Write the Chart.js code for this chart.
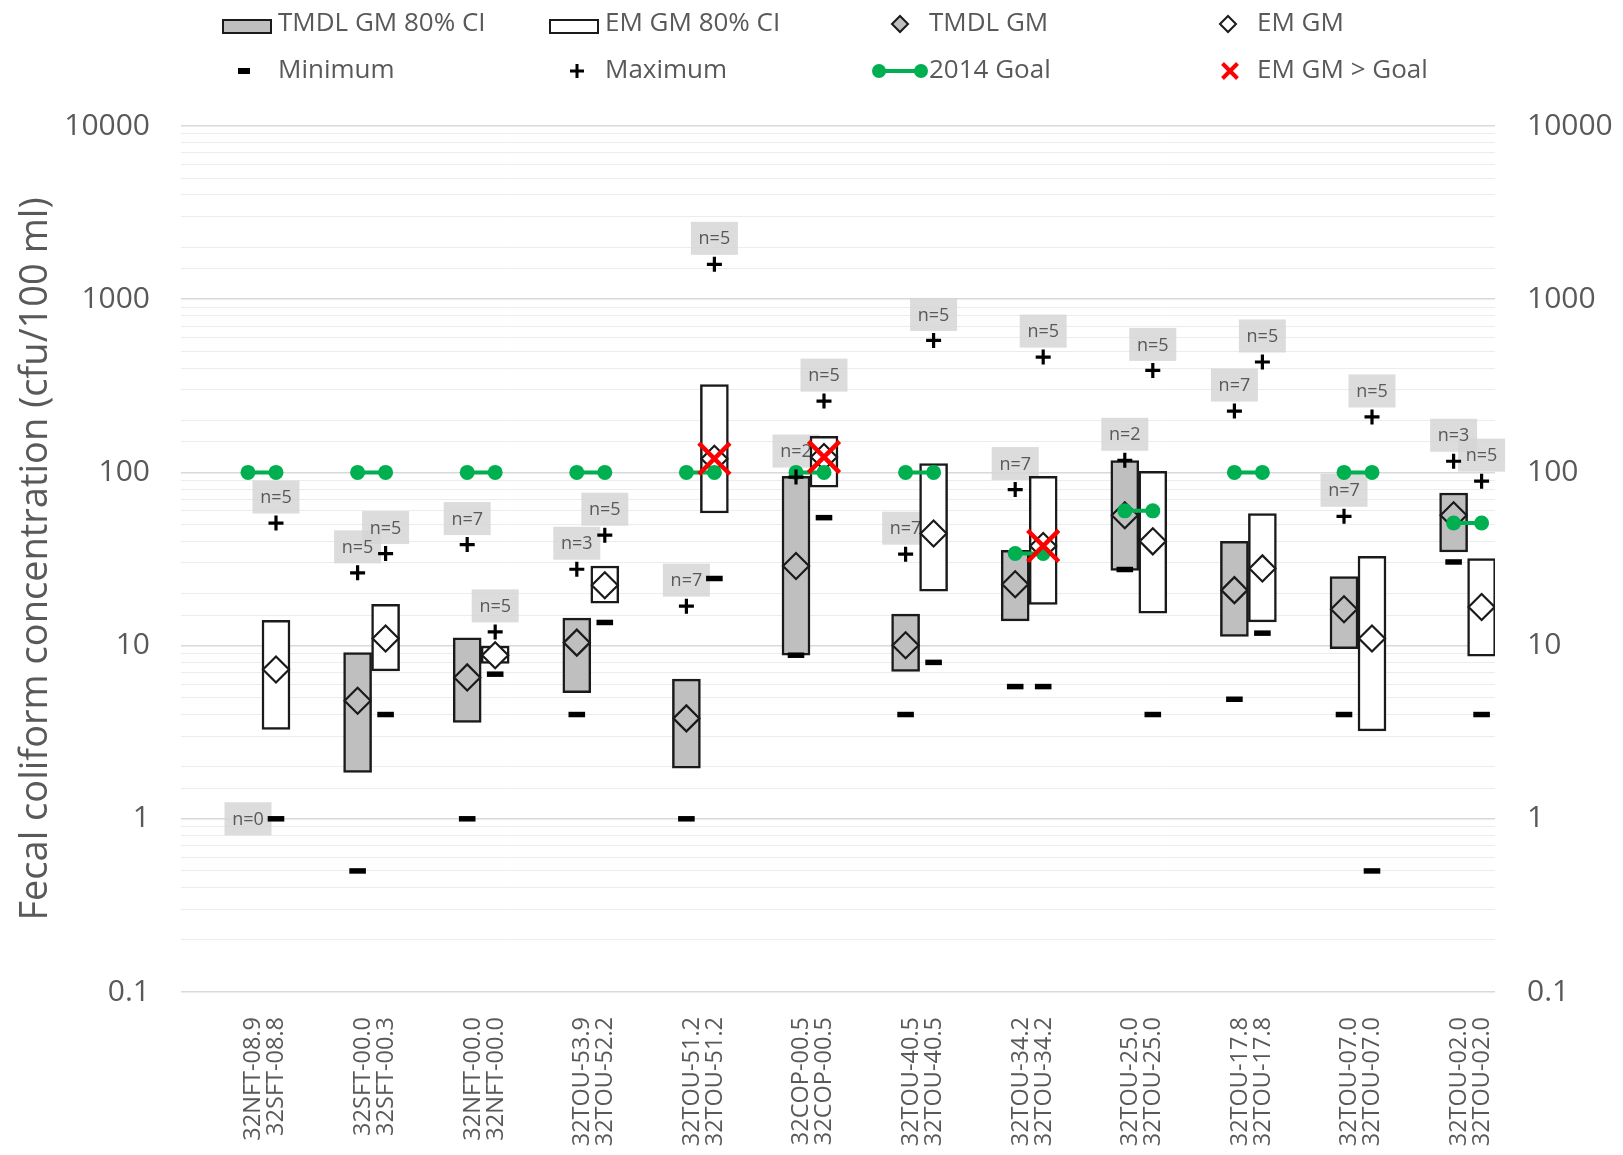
<!DOCTYPE html>
<html>
<head>
<meta charset="utf-8">
<title>Fecal coliform concentration by site</title>
<script src="https://cdn.jsdelivr.net/npm/chart.js@4.4.1/dist/chart.umd.min.js"></script>
<style>
  html, body { margin: 0; padding: 0; background: #fff; }
  #wrap { width: 1623px; height: 1155px; }
</style>
</head>
<body>
<div id="wrap"><canvas id="chart"></canvas></div>
<script>
// station pairs: TMDL station on the first line, EM station on the second
const sites = [
    ["32NFT-08.9", "32SFT-08.8"],
    ["32SFT-00.0", "32SFT-00.3"],
    ["32NFT-00.0", "32NFT-00.0"],
    ["32TOU-53.9", "32TOU-52.2"],
    ["32TOU-51.2", "32TOU-51.2"],
    ["32COP-00.5", "32COP-00.5"],
    ["32TOU-40.5", "32TOU-40.5"],
    ["32TOU-34.2", "32TOU-34.2"],
    ["32TOU-25.0", "32TOU-25.0"],
    ["32TOU-17.8", "32TOU-17.8"],
    ["32TOU-07.0", "32TOU-07.0"],
    ["32TOU-02.0", "32TOU-02.0"]
];

// TMDL period (cfu/100 ml)
const tmdlLow  = [null, 1.85, 3.6, 5.35, 1.96, 8.8, 7.1, 13.9, 27.2, 11.3, 9.6, 34.7];
const tmdlHigh = [null, 9.1, 11.1, 14.4, 6.4, 95, 15.2, 35.5, 117, 40, 25, 76];
const tmdlGM   = [null, 4.8, 6.55, 10.4, 3.8, 28.8, 10.05, 22.6, 56.6, 20.9, 16.2, 56.6];
const tmdlMin  = [null, 0.5, 1, 4, 1, 8.8, 4, 5.8, 27.5, 4.9, 4, 30.4];
const tmdlMax  = [null, 26.3, 38.3, 27.6, 16.9, 94, 33.7, 79.6, 117.5, 226, 55.8, 116];
const tmdlN    = [0, 5, 7, 3, 7, 2, 7, 7, 2, 7, 7, 3];

// EM period (cfu/100 ml)
const emLow  = [3.28, 7.14, 7.88, 17.6, 58.3, 82.3, 20.6, 17.3, 15.4, 13.7, 3.22, 8.69];
const emHigh = [14.0, 17.3, 9.92, 28.8, 321, 161.5, 112.4, 95, 101.5, 57.8, 32.8, 31.8];
const emGM   = [7.28, 11.0, 8.8, 22.3, 120, 122.7, 44.4, 37.6, 40.0, 27.9, 11.0, 16.7];
const emMin  = [1, 4, 6.84, 13.6, 24.4, 54.8, 8, 5.8, 4, 11.8, 0.5, 4];
const emMax  = [51, 34, 12, 43.4, 1590, 258, 578, 463, 388, 434, 209, 89];
const emN    = [5, 5, 5, 5, 5, 5, 5, 5, 5, 5, 5, 5];

// 2014 goal per station pair
const goal = [100, 100, 100, 100, 100, 100, 100, 34, 60, 100, 100, 51];

const yTicks = [0.1, 1, 10, 100, 1000, 10000];

const GRAY = "#595959";
const INK = "#1a1a1a";
const GREEN = "#00b050";
const BOX_GRAY = "#bfbfbf";
const FONT = "'Open Sans'";
const OFF = 0.1277;        // TMDL box sits left of the pair centre, EM box right
const LABEL_SHIFT = 0.075; // centres the two-line site label on the pair

function pts(values, dx) {
    const out = [];
    values.forEach((v, i) => {
        if (v != null) out.push({ x: i + dx, y: v });
    });
    return out;
}

function ranges(lo, hi, dx) {
    const out = [];
    lo.forEach((v, i) => {
        if (v != null && hi[i] != null) out.push({ x: i + dx, y: [v, hi[i]] });
    });
    return out;
}

// goal drawn as one short segment per pair
const goalPts = [];
goal.forEach((g, i) => {
    goalPts.push({ x: i - OFF, y: g }, { x: i + OFF, y: g }, { x: i + 0.5, y: null });
});

const overGoal = emGM.map((v, i) => (v != null && v > goal[i] ? v : null));

function isDecade(v) {
    const l = Math.log10(v);
    return Math.abs(l - Math.round(l)) < 1e-6;
}

function tickText(v) {
    if (!isDecade(v)) return "";
    return v >= 1 ? String(Math.round(v)) : v.toFixed(1);
}

const pointSet = (label, data, style, extra) => Object.assign({
    type: "line",
    label: label,
    data: data,
    showLine: false,
    pointStyle: style,
    pointHoverRadius: 0
}, extra);

const datasets = [
    pointSet("EM GM > Goal", pts(overGoal, OFF), "crossRot", {
        pointRadius: 22, pointBorderWidth: 4.5, pointBorderColor: "#ff0000", order: 0
    }),
    pointSet("Maximum", pts(tmdlMax, -OFF), "cross", {
        pointRadius: 7.5, pointBorderWidth: 3.2, pointBorderColor: "#000", order: 0
    }),
    pointSet("Maximum", pts(emMax, OFF), "cross", {
        pointRadius: 7.5, pointBorderWidth: 3.2, pointBorderColor: "#000", order: 0
    }),
    {
        type: "line",
        label: "2014 Goal",
        data: goalPts,
        borderColor: GREEN,
        borderWidth: 4,
        spanGaps: false,
        pointRadius: 7.5,
        pointBackgroundColor: GREEN,
        pointBorderWidth: 0,
        pointHoverRadius: 0,
        order: 1
    },
    pointSet("Minimum", pts(tmdlMin, -OFF), "line", {
        pointRadius: 8.3, pointBorderWidth: 5.5, pointBorderColor: "#000", order: 1
    }),
    pointSet("Minimum", pts(emMin, OFF), "line", {
        pointRadius: 8.3, pointBorderWidth: 5.5, pointBorderColor: "#000", order: 1
    }),
    pointSet("TMDL GM", pts(tmdlGM, -OFF), "rectRot", {
        pointRadius: 13, pointBorderWidth: 2.2, pointBorderColor: INK,
        pointBackgroundColor: BOX_GRAY, order: 2
    }),
    pointSet("EM GM", pts(emGM, OFF), "rectRot", {
        pointRadius: 13, pointBorderWidth: 2.2, pointBorderColor: INK,
        pointBackgroundColor: "#fff", order: 2
    }),
    {
        type: "bar",
        label: "TMDL GM 80% CI",
        data: ranges(tmdlLow, tmdlHigh, -OFF),
        backgroundColor: BOX_GRAY,
        borderColor: INK,
        borderWidth: 2.5,
        borderSkipped: false,
        barThickness: 28,
        grouped: false,
        order: 5
    },
    {
        type: "bar",
        label: "EM GM 80% CI",
        data: ranges(emLow, emHigh, OFF),
        backgroundColor: "#fff",
        borderColor: INK,
        borderWidth: 2.5,
        borderSkipped: false,
        barThickness: 28,
        grouped: false,
        order: 5
    }
];

// "n=" sample counts, boxed, sitting above each maximum
const nLabels = {
    id: "nLabels",
    beforeDatasetsDraw(chart) {
        const { ctx, scales: { x, y } } = chart;
        const spots = [];
        sites.forEach((_, i) => {
            [[tmdlN[i], tmdlMax[i], -OFF], [emN[i], emMax[i], OFF]].forEach(([n, max, dx]) => {
                if (n == null) return;
                const px = x.getPixelForValue(i + dx);
                const py = max == null ? y.getPixelForValue(1) : y.getPixelForValue(max) - 26;
                spots.push({ n, px, py });
            });
        });
        ctx.save();
        ctx.fillStyle = "rgba(214,214,214,0.85)";
        spots.forEach((s) => ctx.fillRect(s.px - 23.5, s.py - 16.5, 47, 33));
        ctx.font = "18px " + FONT;
        ctx.fillStyle = GRAY;
        ctx.textAlign = "center";
        ctx.textBaseline = "middle";
        spots.forEach((s) => ctx.fillText("n=" + s.n, s.px, s.py + 1));
        ctx.restore();
    }
};

// legend laid out as a 4 x 2 grid
const legendCols = [278, 605, 929, 1257];
const legendRows = [24, 71];
const legendItems = [
    { text: "TMDL GM 80% CI", kind: "boxGray", col: 0, row: 0 },
    { text: "EM GM 80% CI", kind: "boxWhite", col: 1, row: 0 },
    { text: "TMDL GM", kind: "diamondGray", col: 2, row: 0 },
    { text: "EM GM", kind: "diamondWhite", col: 3, row: 0 },
    { text: "Minimum", kind: "dash", col: 0, row: 1 },
    { text: "Maximum", kind: "plus", col: 1, row: 1 },
    { text: "2014 Goal", kind: "goal", col: 2, row: 1 },
    { text: "EM GM > Goal", kind: "cross", col: 3, row: 1 }
];

function drawSymbol(ctx, kind, tx, y) {
    ctx.save();
    if (kind === "boxGray" || kind === "boxWhite") {
        ctx.fillStyle = kind === "boxGray" ? BOX_GRAY : "#fff";
        ctx.strokeStyle = INK;
        ctx.lineWidth = 2;
        ctx.fillRect(tx - 55, y - 4, 48, 13);
        ctx.strokeRect(tx - 55, y - 4, 48, 13);
    } else if (kind === "diamondGray" || kind === "diamondWhite") {
        const cx = tx - 29, r = 8;
        ctx.beginPath();
        ctx.moveTo(cx - r, y);
        ctx.lineTo(cx, y - r);
        ctx.lineTo(cx + r, y);
        ctx.lineTo(cx, y + r);
        ctx.closePath();
        ctx.fillStyle = kind === "diamondGray" ? BOX_GRAY : "#fff";
        ctx.fill();
        ctx.strokeStyle = INK;
        ctx.lineWidth = 2;
        ctx.stroke();
    } else if (kind === "dash") {
        ctx.fillStyle = "#000";
        ctx.fillRect(tx - 40, y - 3, 12, 6);
    } else if (kind === "plus") {
        const cx = tx - 28;
        ctx.strokeStyle = "#000";
        ctx.lineWidth = 3;
        ctx.beginPath();
        ctx.moveTo(cx - 7, y); ctx.lineTo(cx + 7, y);
        ctx.moveTo(cx, y - 7); ctx.lineTo(cx, y + 7);
        ctx.stroke();
    } else if (kind === "goal") {
        ctx.strokeStyle = GREEN;
        ctx.fillStyle = GREEN;
        ctx.lineWidth = 4;
        ctx.beginPath();
        ctx.moveTo(tx - 50, y); ctx.lineTo(tx - 8, y);
        ctx.stroke();
        [tx - 50, tx - 8].forEach((cx) => {
            ctx.beginPath();
            ctx.arc(cx, y, 7, 0, Math.PI * 2);
            ctx.fill();
        });
    } else if (kind === "cross") {
        const cx = tx - 27, r = 7.5;
        ctx.strokeStyle = "#ff0000";
        ctx.lineWidth = 4;
        ctx.beginPath();
        ctx.moveTo(cx - r, y - r); ctx.lineTo(cx + r, y + r);
        ctx.moveTo(cx + r, y - r); ctx.lineTo(cx - r, y + r);
        ctx.stroke();
    }
    ctx.restore();
}

const legendGrid = {
    id: "legendGrid",
    afterDraw(chart) {
        const ctx = chart.ctx;
        ctx.save();
        ctx.font = "26px " + FONT;
        ctx.textBaseline = "middle";
        ctx.textAlign = "left";
        legendItems.forEach((item) => {
            const tx = legendCols[item.col];
            const y = legendRows[item.row];
            drawSymbol(ctx, item.kind, tx, y);
            ctx.fillStyle = GRAY;
            ctx.fillText(item.text, tx, y);
        });
        ctx.restore();
    }
};

const yTickOpts = {
    autoSkip: false,
    color: GRAY,
    font: { family: FONT, size: 30 },
    callback: (v) => tickText(v)
};

new Chart(document.getElementById("chart"), {
    type: "bar",
    data: { datasets: datasets },
    options: {
        responsive: true,
        maintainAspectRatio: false,
        animation: false,
        layout: { padding: { top: 126, left: 0, right: 0, bottom: 0 } },
        plugins: {
            legend: { display: false },
            tooltip: { enabled: false }
        },
        scales: {
            x: {
                type: "linear",
                min: -0.739,
                max: 11.25,
                offset: false,
                grid: { display: false },
                border: { display: false },
                afterBuildTicks: (scale) => {
                    scale.ticks = sites.map((_, i) => ({ value: i - LABEL_SHIFT }));
                },
                afterFit: (scale) => { scale.height = 163; },
                ticks: {
                    autoSkip: false,
                    minRotation: 90,
                    maxRotation: 90,
                    padding: 17,
                    color: GRAY,
                    font: { family: FONT, size: 23.5, lineHeight: "23px" },
                    callback: (v, i) => sites[i]
                }
            },
            y: {
                type: "logarithmic",
                position: "left",
                min: 0.1,
                max: 10000,
                border: { display: false },
                grid: {
                    drawTicks: false,
                    color: (c) => (isDecade(c.tick.value) ? "#d9d9d9" : "#ececec"),
                    lineWidth: (c) => (isDecade(c.tick.value) ? 1.6 : 1)
                },
                ticks: Object.assign({ padding: 31 }, yTickOpts),
                title: {
                    display: true,
                    text: "Fecal coliform concentration (cfu/100 ml)",
                    color: GRAY,
                    font: { family: FONT, size: 38 },
                    padding: { top: 13, bottom: 0 }
                },
                afterFit: (scale) => { scale.width = 181; }
            },
            y2: {
                type: "logarithmic",
                position: "right",
                min: 0.1,
                max: 10000,
                border: { display: false },
                grid: { display: false, drawTicks: false },
                ticks: Object.assign({ padding: 32 }, yTickOpts),
                afterFit: (scale) => { scale.width = 128; }
            }
        }
    },
    plugins: [nLabels, legendGrid]
});
</script>
</body>
</html>
